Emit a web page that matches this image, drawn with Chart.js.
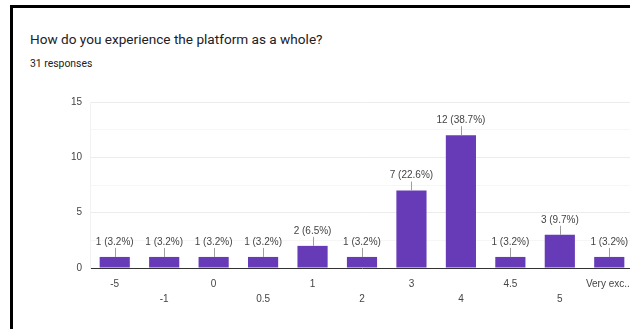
<!DOCTYPE html>
<html>
<head>
<meta charset="utf-8">
<script src="https://cdn.jsdelivr.net/npm/chart.js@4"></script>
<style>
  html, body { margin: 0; padding: 0; background: #fff; overflow: hidden; }
  body { width: 630px; height: 329px; position: relative; font-family: Roboto, Arial, sans-serif; }
  .frame { position: absolute; left: 10px; top: 5px; width: 640px; height: 340px; border-left: 3px solid #000; border-top: 3px solid #000; }
  .title { position: absolute; left: 30px; top: 31px; font-size: 13.6px; color: #202124; }
  .sub { position: absolute; left: 30px; top: 57px; font-size: 10.4px; color: #202124; }
  .wrap { position: absolute; left: 0; top: 0; width: 634px; height: 329px; }
</style>
</head>
<body>
<div class="frame"></div>
<div class="title">How do you experience the platform as a whole?</div>
<div class="sub">31 responses</div>
<div class="wrap"><canvas id="myChart"></canvas></div>
<script>
// categories, counts, percentages
const categories = ['-5', '-1', '0', '0.5', '1', '2', '3', '4', '4.5', '5', 'Very exc...'];
const counts = [1, 1, 1, 1, 2, 1, 7, 12, 1, 3, 1];
const percents = [3.2, 3.2, 3.2, 3.2, 6.5, 3.2, 22.6, 38.7, 3.2, 9.7, 3.2];
const yTicks = [0, 5, 10, 15];

const chartFont = 'Arial, "Liberation Sans", sans-serif';

// every other label goes on a second row
const xLabels = categories.map((c, i) => i % 2 === 0 ? c : ['', c]);

// value labels with a short leader line above each bar
const barLabels = {
  id: 'barLabels',
  afterDatasetsDraw(chart) {
    const ctx = chart.ctx;
    const meta = chart.getDatasetMeta(0);
    ctx.save();
    ctx.font = '10px ' + chartFont;
    ctx.textAlign = 'center';
    ctx.textBaseline = 'middle';
    meta.data.forEach((bar, i) => {
      ctx.strokeStyle = '#9e9e9e';
      ctx.lineWidth = 1;
      ctx.beginPath();
      ctx.moveTo(Math.round(bar.x) + 0.5, bar.y);
      ctx.lineTo(Math.round(bar.x) + 0.5, bar.y - 9);
      ctx.stroke();
      ctx.fillStyle = '#444';
      ctx.fillText(counts[i] + ' (' + percents[i] + '%)', bar.x, bar.y - 15);
    });
    ctx.restore();
  }
};

const ctx = document.getElementById('myChart').getContext('2d');
new Chart(ctx, {
  type: 'bar',
  data: {
    labels: xLabels,
    datasets: [{
      data: counts,
      backgroundColor: '#673ab7',
      borderColor: '#673ab7',
      categoryPercentage: 1,
      barPercentage: 0.61
    }]
  },
  options: {
    responsive: true,
    maintainAspectRatio: false,
    animation: false,
    layout: { padding: { top: 102, left: 0, right: 0, bottom: 0 } },
    plugins: { legend: { display: false }, tooltip: { enabled: false } },
    scales: {
      x: {
        grid: { display: false },
        border: { color: '#333', width: 1 },
        ticks: { color: '#444', font: { size: 10, family: chartFont, lineHeight: 1.45 }, maxRotation: 0, autoSkip: false, padding: 1 },
        afterFit(scale) { scale.height = 61; }
      },
      y: {
        min: 0,
        max: 15,
        border: { display: true, color: '#f2f2f2' },
        grid: {
          color: c => c.tick.value === 0 ? 'rgba(0,0,0,0)' : (c.tick.value % 5 === 0 ? '#ececec' : '#f6f6f6'),
          drawTicks: false
        },
        ticks: {
          stepSize: 2.5,
          color: '#444',
          font: { size: 10, family: chartFont },
          padding: 8,
          callback: v => yTicks.includes(v) ? v : ''
        },
        afterFit(scale) { scale.width = 90; }
      }
    }
  },
  plugins: [barLabels]
});
</script>
</body>
</html>
